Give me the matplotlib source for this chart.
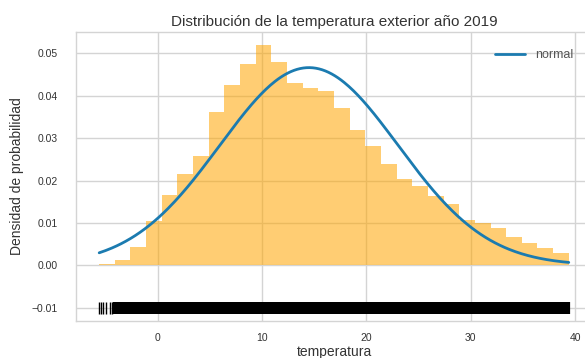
import numpy as np
import matplotlib
matplotlib.use("Agg")
import matplotlib.pyplot as plt

plt.style.use("seaborn-v0_8-whitegrid")
plt.rcParams['font.family'] = ['Liberation Sans', 'DejaVu Sans']

# densidad de cada intervalo del histograma (30 bins)
densidad = [0.0004, 0.0013, 0.0044, 0.0104, 0.0167, 0.0216, 0.0257, 0.0361,
            0.0426, 0.0476, 0.0520, 0.0479, 0.0430, 0.0418, 0.0412, 0.0372,
            0.0320, 0.0281, 0.0238, 0.0203, 0.0188, 0.0164, 0.0145, 0.0108,
            0.0100, 0.0089, 0.0066, 0.0053, 0.0041, 0.0029]
temp_min = -5.6
temp_max = 39.4

# ajuste normal
media = 14.5
desv = 8.55

# lecturas sueltas por debajo de -4 y el rango continuo del resto (resolucion 0.1)
lecturas_bajas = [-5.6, -5.4, -5.2, -4.9, -4.6, -4.4]
rango_continuo = (-4.2, 39.4)

bordes = np.linspace(temp_min, temp_max, len(densidad) + 1)
continuas = np.arange(rango_continuo[0], rango_continuo[1] + 0.05, 0.1)

x_hat = np.linspace(temp_min, temp_max, 300)
y_hat = np.exp(-0.5 * ((x_hat - media) / desv) ** 2) / (desv * np.sqrt(2 * np.pi))

fig = plt.figure(figsize=(5.85, 3.58), dpi=100)
ax = fig.add_axes([0.1294, 0.104, 0.883, 0.807])

ax.plot(x_hat, y_hat, linewidth=2, color='#1b7bb0', label='normal')
ax.bar(bordes[:-1], densidad, width=np.diff(bordes), align='edge',
       color='orange', alpha=0.55, linewidth=0)
# rug de las observaciones
ax.plot(lecturas_bajas, np.full(len(lecturas_bajas), -0.01), '|k',
        markeredgewidth=1.0, markersize=8)
ax.plot(continuas, np.full_like(continuas, -0.01), '|k',
        markeredgewidth=1.6, markersize=8)

ax.set_title('Distribución de la temperatura exterior año 2019', fontsize=11,
             color='#333333', pad=4)
ax.set_xlabel('temperatura', fontsize=10, color='#333333', labelpad=1)
ax.set_ylabel('Densidad de probabilidad', fontsize=10, color='#333333', labelpad=5)
ax.tick_params(axis='both', labelsize=7.5, colors='#333333')
ax.tick_params(axis='y', pad=13)
ax.tick_params(axis='x', pad=9)
ax.grid(color='#d4d4d4', linewidth=1)
for s in ax.spines.values():
    s.set_color('#d4d4d4')
leg = ax.legend(loc='upper right', bbox_to_anchor=(0.985, 0.98), fontsize=9,
                frameon=False, handlelength=2.4)
for t in leg.get_texts():
    t.set_color('#555555')

fig.savefig('out.png', dpi=100)
